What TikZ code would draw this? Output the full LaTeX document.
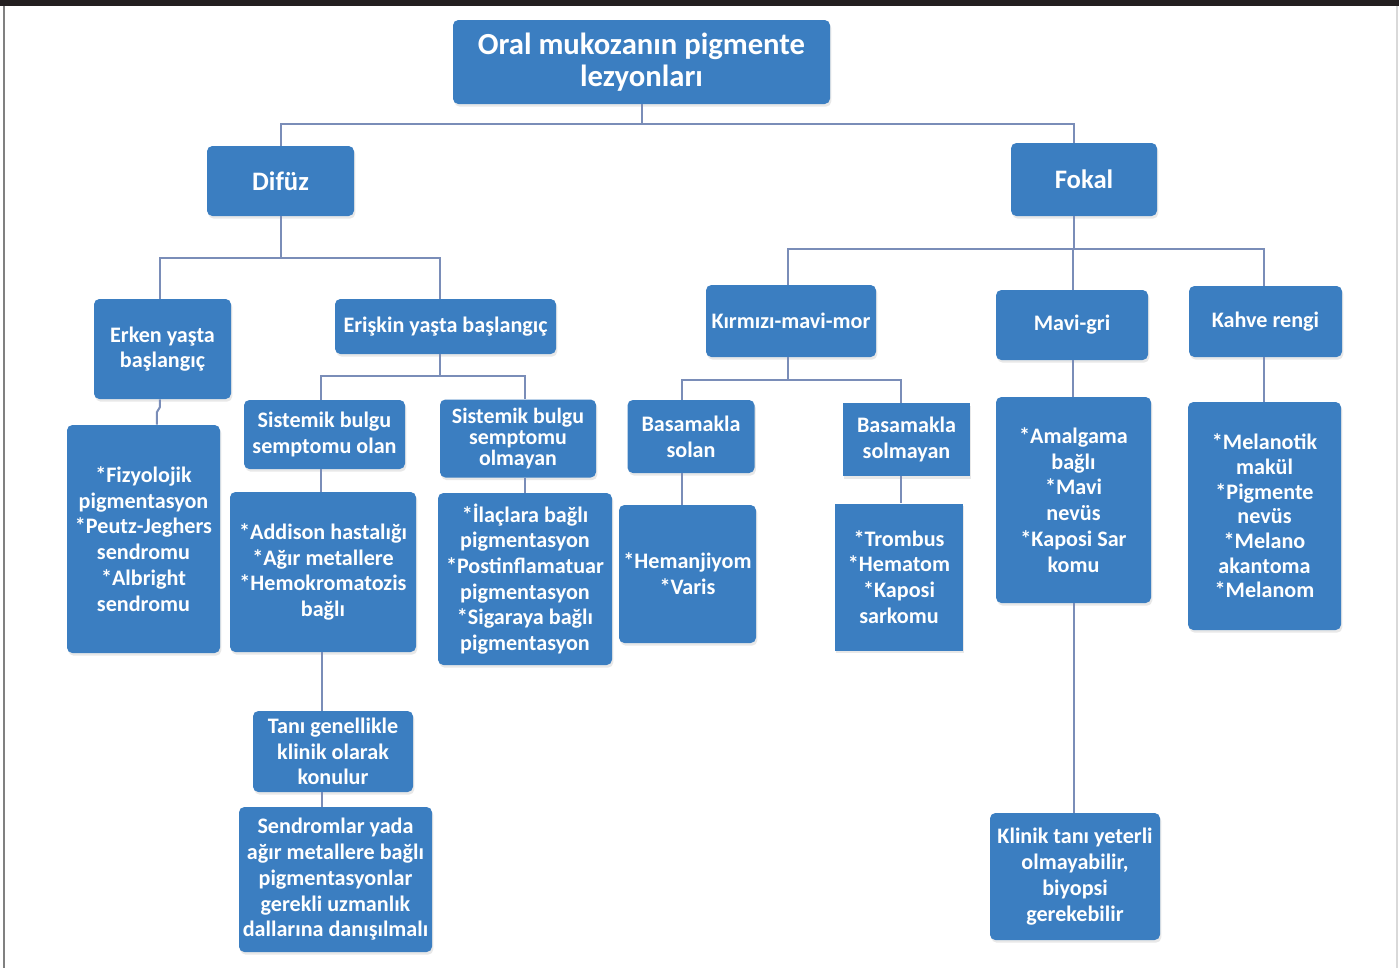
\documentclass[tikz,border=0pt]{standalone}
\usepackage{fontspec}
\setmainfont{Carlito}
\usetikzlibrary{positioning,shadows}

\definecolor{boxblue}{HTML}{3B7EC1}
\definecolor{linkgray}{HTML}{7A8DB8}
\definecolor{topbar}{HTML}{231F20}

\begin{document}
\begin{tikzpicture}[x=0.75pt,y=-0.75pt,
    box/.style 2 args={rectangle,rounded corners=4pt,fill=boxblue,text=white,
      align=center,inner sep=1pt,minimum width=#1,minimum height=#2,
      font=\bfseries\fontsize{16.6pt}{19.3pt}\selectfont,
      drop shadow={opacity=0.18,shadow xshift=1pt,shadow yshift=-2pt}},
    conn/.style={draw=linkgray,line width=1.5pt}]

  \useasboundingbox (0,0) rectangle (1399,968);
  % page frame
  \fill[topbar] (0,0) rectangle (1399,6);
  \draw[gray,line width=1pt] (4,6) -- (4,968);
  \draw[gray!30,line width=0.8pt] (1397,6) -- (1397,968);

  % level 0 and 1
  \node[box={282.75pt}{63pt},font=\bfseries\fontsize{23pt}{23.5pt}\selectfont]
       (root)  at (641.5,62)  {Oral mukozanın pigmente\\lezyonları};
  \node[box={110.25pt}{52.5pt},font=\bfseries\fontsize{20pt}{21pt}\selectfont]
       (difuz) at (280.5,181) {Difüz};
  \node[box={109.5pt}{54.75pt},font=\bfseries\fontsize{20pt}{21pt}\selectfont]
       (fokal) at (1084,179.5) {Fokal};

  % Difüz branch
  \node[box={102.75pt}{75pt}]     (erken)   at (162.5,349)   {Erken yaşta\\başlangıç};
  \node[box={165.75pt}{41.25pt}]  (eriskin) at (445.5,326.5) {Erişkin yaşta başlangıç};
  \node[box={114.75pt}{171pt}]    (fizyo)   at (143.5,539)
       {*Fizyolojik\\pigmentasyon\\*Peutz-Jeghers\\sendromu\\*Albright\\sendromu};
  \node[box={120.75pt}{51.75pt}]  (sisvar)  at (324.5,434.5) {Sistemik bulgu\\semptomu olan};
  \node[box={117pt}{58.5pt},font=\bfseries\fontsize{16.4pt}{15.8pt}\selectfont]
       (sisyok)  at (518,438.5) {Sistemik bulgu\\semptomu\\olmayan};
  \node[box={139.5pt}{120pt}]     (addison) at (323,572)
       {*Addison hastalığı\\*Ağır metallere\\*Hemokromatozis\\bağlı};
  \node[box={130.5pt}{129pt}]     (ilac)    at (525,579)
       {*İlaçlara bağlı\\pigmentasyon\\*Postinflamatuar\\pigmentasyon\\*Sigaraya bağlı\\pigmentasyon};
  \node[box={120pt}{60.75pt}]     (tani)    at (333,751.5) {Tanı genellikle\\klinik olarak\\konulur};
  \node[box={144.75pt}{108.75pt}] (uzman)   at (335.5,879.5)
       {Sendromlar yada\\ağır metallere bağlı\\pigmentasyonlar\\gerekli uzmanlık\\dallarına danışılmalı};

  % Fokal branch
  \node[box={127.5pt}{54pt}]      (kirmizi) at (791,321)     {Kırmızı-mavi-mor};
  \node[box={114pt}{52.5pt}]      (mavigri) at (1072,325)    {Mavi-gri};
  \node[box={114.75pt}{53.25pt}]  (kahve)   at (1265.5,321.5) {Kahve rengi};
  \node[box={95.25pt}{54.75pt}]   (solan)   at (691,436.5)   {Basamakla\\solan};
  \node[box={95.25pt}{54.75pt},sharp corners] (solmayan) at (906.5,439.5) {Basamakla\\solmayan};
  \node[box={102.75pt}{103.5pt}]  (hemanj)  at (687.5,574)   {*Hemanjiyom\\*Varis};
  \node[box={96pt}{110.25pt},sharp corners] (trombus) at (899,577)
       {*Trombus\\*Hematom\\*Kaposi\\sarkomu};
  \node[box={116.25pt}{154.5pt}]  (amalgam) at (1073.5,500)
       {*Amalgama\\bağlı\\*Mavi\\nevüs\\*Kaposi Sar\\komu};
  \node[box={114.75pt}{171pt},font=\bfseries\fontsize{16.6pt}{18.5pt}\selectfont]
       (melano)  at (1264.5,516)
       {*Melanotik\\makül\\*Pigmente\\nevüs\\*Melano\\akantoma\\*Melanom};
  \node[box={127.5pt}{95.25pt}]   (klinik)  at (1075,876.5)
       {Klinik tanı yeterli\\olmayabilir,\\biyopsi\\gerekebilir};

  % bend points of the connectors
  \coordinate (fk) at ([xshift=-7.5pt]fokal.south);
  \coordinate (er) at ([xshift=-4pt]eriskin.south);
  \coordinate (ad) at ([xshift=-1pt]addison.south);
  \coordinate (kr) at ([xshift=-2.25pt]kirmizi.south);

  % connectors
  \draw[conn] (root.south) -- ++(0,20) -| (difuz.north);
  \draw[conn] (root.south) -- ++(0,20) -| (fk |- fokal.north);

  \draw[conn] (difuz.south) -- ++(0,42) -| ([xshift=-2pt]erken.north);
  \draw[conn] (difuz.south) -- ++(0,42) -| (er |- eriskin.north);
  \draw[conn] ([xshift=-2pt]erken.south) -- ++(0,8) -- ++(-3,5)
              -- ([xshift=-4.25pt]erken.south |- fizyo.north);
  \draw[conn] (er) -- ++(0,22) -| ([xshift=-2.5pt]sisvar.north);
  \draw[conn] (er) -- ++(0,22) -| (ilac.north |- sisyok.north);
  \draw[conn] ([xshift=-2.5pt]sisvar.south) -- ([xshift=-2.5pt]sisvar.south |- addison.north);
  \draw[conn] (ilac.north |- sisyok.south) -- (ilac.north);
  \draw[conn] (ad) -- (ad |- tani.north);
  \draw[conn] (ad |- tani.south) -- (ad |- uzman.north);

  \draw[conn] (fk) -- ++(0,33) -| (kr |- kirmizi.north);
  \draw[conn] (fk) -- ++(0,33) -| ([xshift=1pt]mavigri.north);
  \draw[conn] (fk) -- ++(0,33) -| ([xshift=-1pt]kahve.north);
  \draw[conn] (kr) -- ++(0,23) -| ([xshift=-6.75pt]solan.north);
  \draw[conn] (kr) -- ++(0,23) -| ([xshift=-4.5pt]solmayan.north);
  \draw[conn] ([xshift=-6.75pt]solan.south) -- ([xshift=-6.75pt]solan.south |- hemanj.north);
  \draw[conn] ([xshift=-4pt]solmayan.south) -- ([xshift=-4pt]solmayan.south |- trombus.north);
  \draw[conn] ([xshift=1pt]mavigri.south) -- ([xshift=1pt]mavigri.south |- amalgam.north);
  \draw[conn] ([xshift=-1pt]kahve.south) -- ([xshift=-1pt]kahve.south |- melano.north);
  \draw[conn] (amalgam.south) -- (amalgam.south |- klinik.north);
\end{tikzpicture}
\end{document}
